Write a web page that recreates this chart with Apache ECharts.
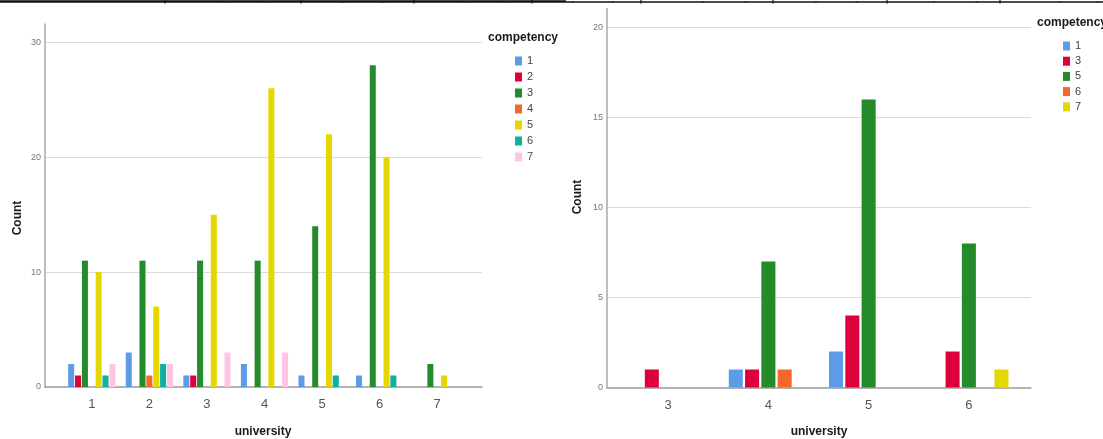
<!DOCTYPE html>
<html>
<head>
<meta charset="utf-8">
<script src="https://cdn.jsdelivr.net/npm/echarts@6/dist/echarts.min.js"></script>
<style>
html,body{margin:0;padding:0;background:#fff;}
#main{width:1103px;height:439px;}
</style>
</head>
<body>
<div id="main"></div>
<script>
// ---- Data ----
const leftUniversities = ['1', '2', '3', '4', '5', '6', '7'];
const leftCompetencies = ['1', '2', '3', '4', '5', '6', '7'];
const leftC1 = [2, 3, 1, 2, 1, 1, 0];
const leftC2 = [1, 0, 1, 0, 0, 0, 0];
const leftC3 = [11, 11, 11, 11, 14, 28, 2];
const leftC4 = [0, 1, 0, 0, 0, 0, 0];
const leftC5 = [10, 7, 15, 26, 22, 20, 1];
const leftC6 = [1, 2, 0, 0, 1, 1, 0];
const leftC7 = [2, 2, 3, 3, 0, 0, 0];
const leftValues = [leftC1, leftC2, leftC3, leftC4, leftC5, leftC6, leftC7];
const leftColors = ['#5b9be8', '#de003c', '#258a2a', '#f4682a', '#e5d800', '#10b0a0', '#ffc4e0'];
const leftTicks = [0, 10, 20, 30];

const rightUniversities = ['3', '4', '5', '6'];
const rightCompetencies = ['1', '3', '5', '6', '7'];
const rightC1 = [0, 1, 2, 0];
const rightC3 = [1, 1, 4, 2];
const rightC5 = [0, 7, 16, 8];
const rightC6 = [0, 1, 0, 0];
const rightC7 = [0, 0, 0, 1];
const rightValues = [rightC1, rightC3, rightC5, rightC6, rightC7];
const rightColors = ['#5b9be8', '#de003c', '#258a2a', '#f4682a', '#e5d800'];
const rightTicks = [0, 5, 10, 15, 20];

// ---- Chart ----
const chart = echarts.init(document.getElementById('main'), null, {renderer: 'canvas'});
const FONT = 'Liberation Sans, Arial, sans-serif';
const gridLineColor = '#dcdcdc';
const axisColor = '#a8a8a8';

const leftMax = 31.6, rightMax = 21.06;

const series = [];
leftCompetencies.forEach((c, i) => {
  series.push({
    name: 'L' + c, type: 'bar', xAxisIndex: 1, yAxisIndex: 1,
    data: leftValues[i].map(v => v === 0 ? null : v),
    itemStyle: {color: leftColors[i]},
    barGap: '14%', barCategoryGap: '18%', silent: true
  });
});
rightCompetencies.forEach((c, i) => {
  series.push({
    name: 'R' + c, type: 'bar', xAxisIndex: 3, yAxisIndex: 3,
    data: rightValues[i].map(v => v === 0 ? null : v),
    itemStyle: {color: rightColors[i]},
    barGap: '16%', barCategoryGap: '21%', silent: true
  });
});

function frameYAxis(gridIndex, max, ticks) {
  return {
    type: 'value', gridIndex, min: 0, max,
    interval: ticks[1] - ticks[0],
    axisLine: {show: true, lineStyle: {color: axisColor, width: 1.5}},
    axisTick: {show: false},
    axisLabel: {color: '#777', fontSize: 9, fontFamily: FONT, margin: 4, showMaxLabel: false,
      formatter: v => ticks.includes(v) ? String(v) : ''},
    splitLine: {show: true, showMaxLine: false, showMinLine: false, lineStyle: {color: gridLineColor, width: 1.2}}
  };
}
function hiddenYAxis(gridIndex, max) {
  return {type: 'value', gridIndex, min: 0, max, show: false, splitLine: {show: false}};
}
function frameXAxis(gridIndex) {
  return {
    type: 'value', gridIndex, min: 0, max: 1,
    axisLine: {show: true, lineStyle: {color: '#9a9a9a', width: 1.5}},
    axisTick: {show: false}, axisLabel: {show: false}, splitLine: {show: false}
  };
}
function catXAxis(gridIndex, cats) {
  return {
    type: 'category', gridIndex, data: cats,
    axisLine: {show: false}, axisTick: {show: false},
    axisLabel: {color: '#555', fontSize: 13, fontFamily: FONT, margin: 11},
    splitLine: {show: false}
  };
}

// top strip (cut-off table row above the charts)
const stripDividers = [165, 301, 414, 532, 641, 773, 887, 1000];
const stripMarks = [225, 265, 344, 384, 465, 505, 573, 613, 703, 746, 816, 857, 934, 977, 1060, 1098];
const graphic = [
  {type: 'line', shape: {x1: 0, y1: 1.5, x2: 566, y2: 1.5}, style: {stroke: '#111', lineWidth: 2.5}, silent: true},
  {type: 'line', shape: {x1: 566, y1: 2, x2: 1103, y2: 2}, style: {stroke: '#111', lineWidth: 1.5}, silent: true}
];
stripDividers.forEach(x => graphic.push({type: 'line', shape: {x1: x, y1: 0, x2: x, y2: 3.5}, style: {stroke: '#111', lineWidth: 1.2}, silent: true}));
stripMarks.forEach(x => graphic.push({type: 'line', shape: {x1: x - 1.5, y1: 2.5, x2: x + 1, y2: 1.5}, style: {stroke: '#222', lineWidth: 1}, silent: true}));

function txt(x, y, text, opts) {
  return Object.assign({type: 'text', x, y, silent: true,
    style: Object.assign({text, fill: '#1a1a1a', font: 'bold 12px ' + FONT, textAlign: 'center', textVerticalAlign: 'middle'}, opts || {})});
}
graphic.push(txt(263, 432, 'university'));
graphic.push(txt(819, 432, 'university'));
graphic.push(Object.assign(txt(0, 0, 'Count'), {x: 18, y: 218, rotation: Math.PI / 2}));
graphic.push(Object.assign(txt(0, 0, 'Count'), {x: 578, y: 197, rotation: Math.PI / 2}));
graphic.push(txt(488, 38, 'competency', {textAlign: 'left'}));
graphic.push(txt(1037, 23, 'competency', {textAlign: 'left'}));

const option = {
  animation: false,
  backgroundColor: '#fff',
  grid: [
    {left: 45, width: 437, top: 24, height: 363},
    {left: 63, width: 403, top: 24, height: 363},
    {left: 607, width: 424, top: 8.5, height: 379},
    {left: 618, width: 401, top: 8.5, height: 379}
  ],
  xAxis: [frameXAxis(0), catXAxis(1, leftUniversities), frameXAxis(2), catXAxis(3, rightUniversities)],
  yAxis: [frameYAxis(0, leftMax, leftTicks), hiddenYAxis(1, leftMax), frameYAxis(2, rightMax, rightTicks), hiddenYAxis(3, rightMax)],
  legend: [
    {
      orient: 'vertical', left: 515, top: 55.5, padding: 0, itemWidth: 7, itemHeight: 9, itemGap: 5,
      icon: 'rect', selectedMode: false,
      data: leftCompetencies.map(c => 'L' + c),
      formatter: n => n.slice(1),
      textStyle: {color: '#444', fontSize: 11, fontFamily: FONT, lineHeight: 10}
    },
    {
      orient: 'vertical', left: 1063, top: 40.5, padding: 0, itemWidth: 7, itemHeight: 9, itemGap: 4.2,
      icon: 'rect', selectedMode: false,
      data: rightCompetencies.map(c => 'R' + c),
      formatter: n => n.slice(1),
      textStyle: {color: '#444', fontSize: 11, fontFamily: FONT, lineHeight: 10}
    }
  ],
  graphic,
  series
};
chart.setOption(option);
</script>
</body>
</html>
